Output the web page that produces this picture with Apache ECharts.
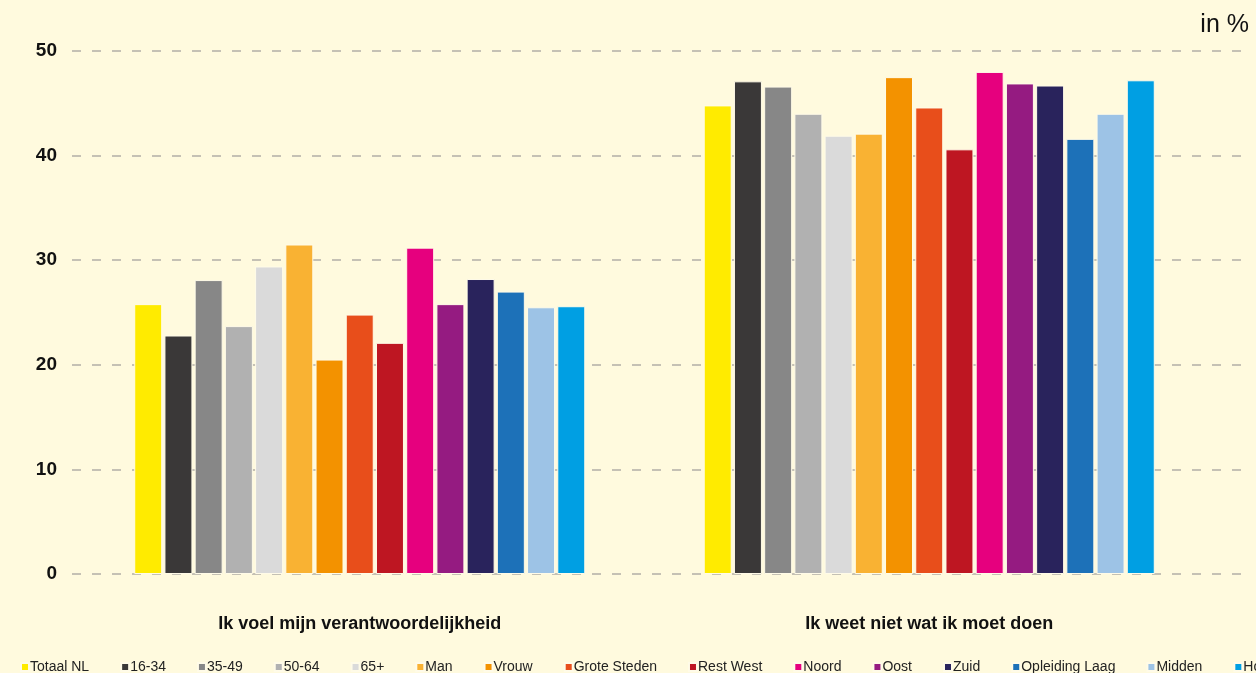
<!DOCTYPE html>
<html><head><meta charset="utf-8">
<script src="https://cdn.jsdelivr.net/npm/echarts@6/dist/echarts.min.js"></script>
<style>html,body{margin:0;padding:0;background:#fffade;}#c{width:1256px;height:673px;}</style>
</head><body><div id="c"></div>
<script>
const categories = ['Ik voel mijn verantwoordelijkheid', 'Ik weet niet wat ik moet doen'];
const seriesNames = ['Totaal NL','16-34','35-49','50-64','65+','Man','Vrouw','Grote Steden','Rest West','Noord','Oost','Zuid','Opleiding Laag','Midden','Hoog'];
const seriesColors = ['#ffeb00','#3a3838','#878787','#b1b1b1','#dadada','#f9b233','#f39200','#e84e1b','#be1622','#e6007e','#951b81','#29235c','#1d71b8','#9dc3e6','#009fe3'];
const totaalNL = [25.8, 44.8];
const age1634 = [22.8, 47.1];
const age3549 = [28.1, 46.6];
const age5064 = [23.7, 44.0];
const age65 = [29.4, 41.9];
const man = [31.5, 42.1];
const vrouw = [20.5, 47.5];
const groteSteden = [24.8, 44.6];
const restWest = [22.1, 40.6];
const noord = [31.2, 48.0];
const oost = [25.8, 46.9];
const zuid = [28.2, 46.7];
const opleidingLaag = [27.0, 41.6];
const midden = [25.5, 44.0];
const hoog = [25.6, 47.2];
const yTicks = [0, 10, 20, 30, 40, 50];

const values = [totaalNL, age1634, age3549, age5064, age65, man, vrouw, groteSteden, restWest, noord, oost, zuid, opleidingLaag, midden, hoog];

const chart = echarts.init(document.getElementById('c'));
chart.setOption({
  backgroundColor: '#fffade',
  animation: false,
  graphic: [{
    type: 'text', right: 7, top: 13,
    style: { text: 'in %', fontSize: 25, fontFamily: '"Liberation Sans Narrow", "Arial Narrow", sans-serif', fill: '#111' }
  }],
  legend: {
    left: 15, top: 655, width: 3000,
    itemWidth: 8, itemHeight: 8, itemGap: 31,
    icon: 'rect',
    textStyle: { fontSize: 14, color: '#222', fontFamily: '"Liberation Sans Narrow", "Arial Narrow", sans-serif', padding: [0,0,0,-4] },
    data: seriesNames
  },
  grid: [
    { left: 72, right: 11, top: 51, bottom: 99 },
    { left: 75, right: 42, top: 51, bottom: 99 }
  ],
  xAxis: [
    { gridIndex: 0, type: 'category', data: categories, show: false },
    {
      gridIndex: 1, type: 'category', data: categories,
      axisLine: { show: false }, axisTick: { show: false },
      axisLabel: { margin: 41, fontSize: 18, fontWeight: 'bold', color: '#111', fontFamily: 'Liberation Sans, Arial, sans-serif' }
    }
  ],
  yAxis: [
    {
      gridIndex: 0, type: 'value', min: yTicks[0], max: yTicks[yTicks.length-1], interval: 10,
      axisLine: { show: false }, axisTick: { show: false },
      axisLabel: { margin: 15, fontSize: 19, fontWeight: 'bold', color: '#111', fontFamily: 'Liberation Sans, Arial, sans-serif' },
      splitLine: { lineStyle: { color: '#b2aea6', width: 1.5, type: [9, 11] } }
    },
    {
      gridIndex: 1, type: 'value', min: yTicks[0], max: yTicks[yTicks.length-1], interval: 10,
      show: false, splitLine: { show: false }
    }
  ],
  series: seriesNames.map((n, i) => ({
    name: n, type: 'bar', data: values[i], xAxisIndex: 1, yAxisIndex: 1,
    barGap: '8%', barCategoryGap: '20.8%',
    itemStyle: { color: seriesColors[i], borderColor: '#fffbe8', borderWidth: 1 }
  }))
});
</script></body></html>
